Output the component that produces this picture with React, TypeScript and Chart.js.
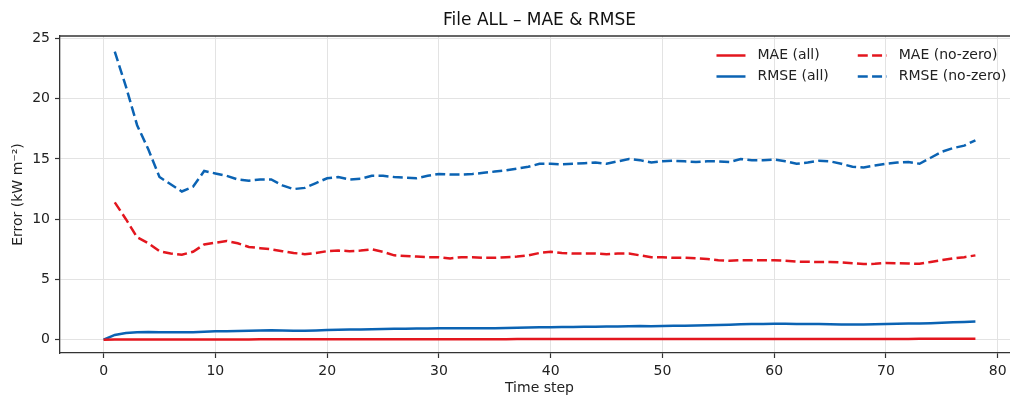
import React, { useEffect, useRef } from "react";
import { Chart, registerables } from "chart.js";

Chart.register(...registerables);

const TITLE = "File ALL – MAE & RMSE";
const X_LABEL = "Time step";
const Y_LABEL = "Error (kW m⁻²)";
const X_TICKS = [0, 10, 20, 30, 40, 50, 60, 70, 80];
const Y_TICKS = [0, 5, 10, 15, 20, 25];

const RED = "#e3161e";
const BLUE = "#0b63b3";

// steps 0..78
const MAE_ALL = [
  0, 0.02, 0.03, 0.03, 0.03, 0.03, 0.03, 0.03, 0.03, 0.03,
  0.03, 0.03, 0.03, 0.03, 0.04, 0.04, 0.04, 0.04, 0.04, 0.04,
  0.04, 0.04, 0.04, 0.04, 0.04, 0.05, 0.05, 0.05, 0.05, 0.05,
  0.05, 0.05, 0.05, 0.05, 0.05, 0.05, 0.05, 0.06, 0.06, 0.06,
  0.06, 0.06, 0.06, 0.06, 0.06, 0.06, 0.06, 0.06, 0.06, 0.06,
  0.06, 0.06, 0.06, 0.06, 0.07, 0.07, 0.07, 0.07, 0.07, 0.07,
  0.07, 0.07, 0.07, 0.07, 0.07, 0.07, 0.07, 0.07, 0.07, 0.07,
  0.07, 0.07, 0.07, 0.08, 0.08, 0.08, 0.08, 0.09, 0.09,
];

// steps 0..78
const RMSE_ALL = [
  0.0, 0.4, 0.55, 0.62, 0.64, 0.63, 0.62, 0.62, 0.63, 0.67,
  0.7, 0.71, 0.72, 0.74, 0.77, 0.78, 0.76, 0.74, 0.75, 0.77,
  0.8, 0.83, 0.85, 0.86, 0.88, 0.9, 0.91, 0.92, 0.93, 0.94,
  0.96, 0.96, 0.95, 0.95, 0.95, 0.96, 0.97, 0.99, 1.01, 1.03,
  1.04, 1.05, 1.06, 1.07, 1.08, 1.09, 1.1, 1.12, 1.14, 1.12,
  1.14, 1.16, 1.17, 1.19, 1.21, 1.23, 1.25, 1.28, 1.3, 1.31,
  1.33, 1.32, 1.31, 1.31, 1.31, 1.29, 1.27, 1.26, 1.26, 1.28,
  1.31, 1.33, 1.34, 1.35, 1.37, 1.41, 1.45, 1.48, 1.52,
];

// steps 1..78
const MAE_NZ = [
  11.4, 10.0, 8.5, 8.0, 7.35, 7.15, 7.05, 7.3, 7.9, 8.05,
  8.2, 8.0, 7.7, 7.6, 7.5, 7.35, 7.2, 7.1, 7.2, 7.35,
  7.4, 7.35, 7.4, 7.5, 7.3, 7.0, 6.95, 6.9, 6.85, 6.85,
  6.75, 6.85, 6.85, 6.8, 6.8, 6.85, 6.9, 7.0, 7.2, 7.3,
  7.2, 7.15, 7.15, 7.15, 7.1, 7.15, 7.15, 7.0, 6.85, 6.85,
  6.8, 6.8, 6.75, 6.7, 6.6, 6.55, 6.6, 6.6, 6.6, 6.6,
  6.55, 6.48, 6.47, 6.45, 6.45, 6.42, 6.35, 6.28, 6.3, 6.37,
  6.35, 6.33, 6.3, 6.45, 6.6, 6.75, 6.85, 7.0,
];

// steps 1..78
const RMSE_NZ = [
  23.9, 21.0, 17.8, 15.8, 13.5, 12.9, 12.3, 12.7, 14.0, 13.8,
  13.6, 13.3, 13.2, 13.3, 13.3, 12.8, 12.5, 12.6, 13.0, 13.4,
  13.5, 13.3, 13.35, 13.6, 13.6, 13.5, 13.45, 13.4, 13.6, 13.75,
  13.7, 13.7, 13.75, 13.85, 13.95, 14.05, 14.2, 14.35, 14.6, 14.6,
  14.55, 14.6, 14.65, 14.7, 14.6, 14.8, 15.0, 14.9, 14.7, 14.8,
  14.85, 14.8, 14.75, 14.8, 14.8, 14.75, 15.0, 14.9, 14.9, 14.95,
  14.8, 14.6, 14.7, 14.85, 14.8, 14.6, 14.35, 14.3, 14.45, 14.6,
  14.7, 14.75, 14.6, 15.1, 15.6, 15.9, 16.1, 16.55,
];

const FONT = '"DejaVu Sans", "Liberation Sans", sans-serif';
const DASH = [10, 4.3];

const toPoints = (vals: number[], start: number) =>
  vals.map((v, i) => ({ x: start + i, y: v }));

const overlayPlugin = {
  id: "overlay",
  afterDraw(chart: any) {
    const { ctx, chartArea } = chart;
    ctx.save();
    // top spine
    ctx.strokeStyle = "#333";
    ctx.lineWidth = 1.3;
    ctx.beginPath();
    ctx.moveTo(chartArea.left, chartArea.top);
    ctx.lineTo(chartArea.right, chartArea.top);
    ctx.stroke();

    // title
    ctx.font = `17px ${FONT}`;
    ctx.fillStyle = "#111";
    ctx.textAlign = "center";
    ctx.textBaseline = "middle";
    ctx.fillText(TITLE, (chartArea.left + chartArea.right) / 2, 21);

    // legend (2 columns, column-major like matplotlib)
    const f = 14;
    ctx.font = `${f}px ${FONT}`;
    const ds = chart.data.datasets;
    const cols = [
      [ds[0], ds[1]],
      [ds[2], ds[3]],
    ];
    const handle = 29;
    const pad = 12;
    const colSpacing = 29;
    const colWidths = cols.map(
      (c) => handle + pad + Math.max(...c.map((d: any) => ctx.measureText(d.label).width))
    );
    const contentRight = chartArea.right - 0.5 * f - 0.4 * f;
    const colLeft = contentRight - colWidths[1];
    const lefts = [colLeft - colSpacing - colWidths[0], colLeft];
    const rowY = [chartArea.top + 19.5, chartArea.top + 40.5];
    cols.forEach((c, ci) => {
      c.forEach((d: any, ri: number) => {
        const x0 = lefts[ci];
        const y = rowY[ri];
        ctx.strokeStyle = d.borderColor;
        ctx.lineWidth = d.borderWidth;
        ctx.setLineDash(d.borderDash || []);
        ctx.beginPath();
        ctx.moveTo(x0, y);
        ctx.lineTo(x0 + handle, y);
        ctx.stroke();
        ctx.setLineDash([]);
        ctx.fillStyle = "#222";
        ctx.textAlign = "left";
        ctx.textBaseline = "middle";
        ctx.fillText(d.label, x0 + handle + pad, y);
      });
    });
    ctx.restore();
  },
};

export default function App() {
  const ref = useRef<HTMLCanvasElement | null>(null);

  useEffect(() => {
    document.body.style.margin = "0";
    const canvas = ref.current;
    if (!canvas) return;
    const chart = new Chart(canvas, {
      type: "line",
      data: {
        datasets: [
          {
            label: "MAE (all)",
            data: toPoints(MAE_ALL, 0),
            borderColor: RED,
            borderWidth: 2.5,
            pointRadius: 0,
            tension: 0,
            fill: false,
          },
          {
            label: "RMSE (all)",
            data: toPoints(RMSE_ALL, 0),
            borderColor: BLUE,
            borderWidth: 2.5,
            pointRadius: 0,
            tension: 0,
            fill: false,
          },
          {
            label: "MAE (no-zero)",
            data: toPoints(MAE_NZ, 1),
            borderColor: RED,
            borderWidth: 2.5,
            borderDash: DASH,
            pointRadius: 0,
            tension: 0,
            fill: false,
          },
          {
            label: "RMSE (no-zero)",
            data: toPoints(RMSE_NZ, 1),
            borderColor: BLUE,
            borderWidth: 2.5,
            borderDash: DASH,
            pointRadius: 0,
            tension: 0,
            fill: false,
          },
        ],
      },
      options: {
        animation: false,
        responsive: false,
        maintainAspectRatio: false,
        layout: { padding: { top: 36, right: 1, left: 0, bottom: 0 } },
        plugins: {
          legend: { display: false },
          title: { display: false },
          tooltip: { enabled: false },
        },
        scales: {
          x: {
            type: "linear",
            min: -3.9,
            max: 81.9,
            afterBuildTicks: (s: any) => {
              s.ticks = X_TICKS.map((v) => ({ value: v }));
            },
            afterFit: (s: any) => {
              s.height = 44;
            },
            grid: {
              color: "#e3e3e3",
              lineWidth: 1,
              drawTicks: true,
              tickLength: 5,
              tickColor: "#333",
              tickWidth: 1.2,
            },
            border: { color: "#333", width: 1.3 },
            ticks: {
              color: "#222",
              font: { family: FONT, size: 14 },
              padding: 5,
              maxRotation: 0,
              callback: (v: any) => String(v),
            },
            title: {
              display: true,
              text: X_LABEL,
              color: "#222",
              font: { family: FONT, size: 14 },
              padding: { top: 0, bottom: 0 },
            },
          },
          y: {
            type: "linear",
            min: -1.1,
            max: 25.2,
            afterBuildTicks: (s: any) => {
              s.ticks = Y_TICKS.map((v) => ({ value: v }));
            },
            afterFit: (s: any) => {
              s.width = 60;
            },
            grid: {
              color: "#e3e3e3",
              lineWidth: 1,
              drawTicks: true,
              tickLength: 5,
              tickColor: "#333",
              tickWidth: 1.2,
            },
            border: { color: "#333", width: 1.3 },
            ticks: {
              color: "#222",
              font: { family: FONT, size: 14 },
              padding: 5,
              callback: (v: any) => String(v),
            },
            title: {
              display: true,
              text: Y_LABEL,
              color: "#222",
              font: { family: FONT, size: 14 },
              padding: { top: 10, bottom: 0 },
            },
          },
        },
      },
      plugins: [overlayPlugin],
    });
    return () => chart.destroy();
  }, []);

  return (
    <div style={{ width: 1010, height: 397, overflow: "hidden", position: "relative", background: "#fff" }}>
      <canvas ref={ref} width={1020} height={397} style={{ display: "block", width: 1020, height: 397 }} />
    </div>
  );
}
